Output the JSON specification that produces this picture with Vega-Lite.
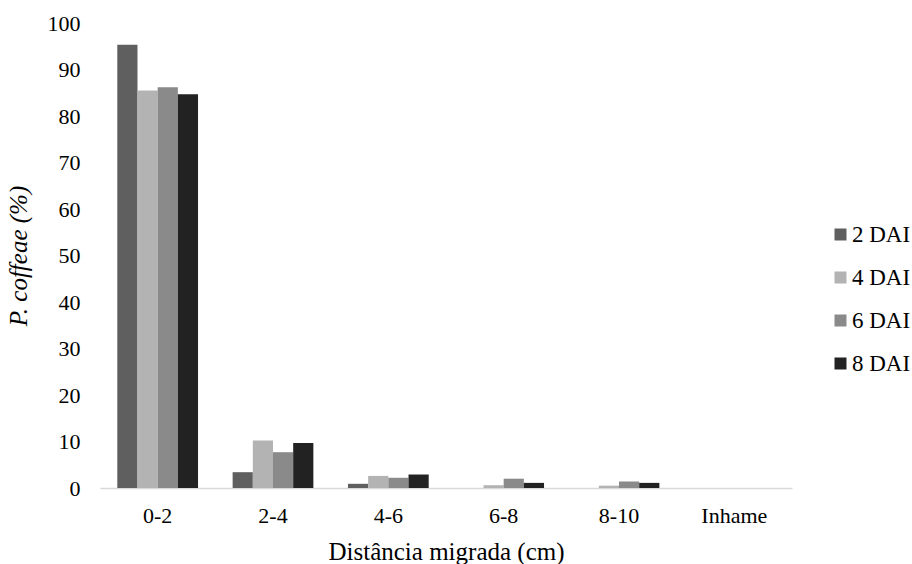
{
  "$schema": "https://vega.github.io/schema/vega-lite/v6.json",
  "autosize": {"type": "none"},
  "padding": {"left": 100, "top": 23, "right": 120, "bottom": 76},
  "width": 692,
  "height": 465,
  "background": "white",
  "config": {
    "view": {"stroke": null},
    "font": "Liberation Serif, DejaVu Serif, serif",
    "axis": {"labelFont": "Liberation Serif, DejaVu Serif, serif", "titleFont": "Liberation Serif, DejaVu Serif, serif", "labelColor": "#000000", "titleColor": "#000000", "titleFontWeight": "normal"},
    "legend": {"labelFont": "Liberation Serif, DejaVu Serif, serif", "labelColor": "#000000", "padding": 0}
  },
  "data": {
    "values": [
      {"dist": "0-2", "dai": "2 DAI", "value": 95.3},
      {"dist": "0-2", "dai": "4 DAI", "value": 85.5},
      {"dist": "0-2", "dai": "6 DAI", "value": 86.2},
      {"dist": "0-2", "dai": "8 DAI", "value": 84.7},
      {"dist": "2-4", "dai": "2 DAI", "value": 3.4},
      {"dist": "2-4", "dai": "4 DAI", "value": 10.2},
      {"dist": "2-4", "dai": "6 DAI", "value": 7.7},
      {"dist": "2-4", "dai": "8 DAI", "value": 9.7},
      {"dist": "4-6", "dai": "2 DAI", "value": 0.9},
      {"dist": "4-6", "dai": "4 DAI", "value": 2.6},
      {"dist": "4-6", "dai": "6 DAI", "value": 2.2},
      {"dist": "4-6", "dai": "8 DAI", "value": 2.9},
      {"dist": "6-8", "dai": "2 DAI", "value": 0},
      {"dist": "6-8", "dai": "4 DAI", "value": 0.6},
      {"dist": "6-8", "dai": "6 DAI", "value": 2.0},
      {"dist": "6-8", "dai": "8 DAI", "value": 1.1},
      {"dist": "8-10", "dai": "2 DAI", "value": 0},
      {"dist": "8-10", "dai": "4 DAI", "value": 0.5},
      {"dist": "8-10", "dai": "6 DAI", "value": 1.4},
      {"dist": "8-10", "dai": "8 DAI", "value": 1.1},
      {"dist": "Inhame", "dai": "2 DAI", "value": 0},
      {"dist": "Inhame", "dai": "4 DAI", "value": 0},
      {"dist": "Inhame", "dai": "6 DAI", "value": 0},
      {"dist": "Inhame", "dai": "8 DAI", "value": 0}
    ]
  },
  "mark": {"type": "bar"},
  "encoding": {
    "x": {
      "field": "dist", "type": "nominal", "sort": null,
      "scale": {"paddingInner": 0.3, "paddingOuter": 0.15},
      "axis": {
        "title": "Distância migrada (cm)", "titleFontSize": 25, "titlePadding": 13,
        "labelFontSize": 22, "labelAngle": 0, "labelPadding": 17,
        "ticks": false, "domainColor": "#d9d9d9", "domainWidth": 1.5, "grid": false
      }
    },
    "xOffset": {"field": "dai", "type": "nominal", "scale": {"paddingInner": 0, "paddingOuter": 0}},
    "y": {
      "field": "value", "type": "quantitative",
      "scale": {"domain": [0, 100]},
      "axis": {
        "title": "P. coffeae (%)", "titleFontSize": 25, "titleFontStyle": "italic", "titlePadding": 16,
        "labelFontSize": 22, "labelPadding": 20, "values": [0,10,20,30,40,50,60,70,80,90,100],
        "ticks": false, "domain": false, "grid": false
      }
    },
    "color": {
      "field": "dai", "type": "nominal",
      "scale": {"domain": ["2 DAI", "4 DAI", "6 DAI", "8 DAI"], "range": ["#5f5f5f", "#b3b3b3", "#8a8a8a", "#222222"]},
      "legend": {
        "title": null, "orient": "none", "legendX": 729, "legendY": 200,
        "symbolType": "square", "symbolSize": 144, "symbolStrokeWidth": 0,
        "labelFontSize": 23, "rowPadding": 19, "labelOffset": 0
      }
    }
  }
}
